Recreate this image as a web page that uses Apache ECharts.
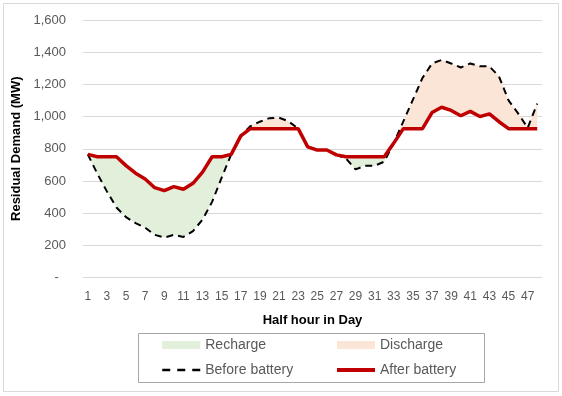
<!DOCTYPE html>
<html>
<head>
<meta charset="utf-8">
<script src="https://cdn.jsdelivr.net/npm/echarts@6/dist/echarts.min.js"></script>
<style>
html,body{margin:0;padding:0;background:#fff;}
#chart{width:562px;height:396px;}
</style>
</head>
<body>
<div id="chart"></div>
<script>
// Half-hour categories
var categories = ['1','2','3','4','5','6','7','8','9','10','11','12','13','14','15','16','17','18','19','20','21','22','23','24',
  '25','26','27','28','29','30','31','32','33','34','35','36','37','38','39','40','41','42','43','44','45','46','47','48'];

// Residual demand before battery (MW)
var beforeBattery = [765, 645, 535, 435, 375, 338, 310, 265, 248, 265, 252, 288, 360, 470, 620, 765,
  880, 940, 968, 990, 993, 970, 925, 812, 792, 792, 762, 740, 672, 694, 694, 720,
  835, 970, 1105, 1240, 1330, 1352, 1330, 1305, 1330, 1312, 1312, 1250, 1100, 1020, 930, 1080];

// Residual demand after battery (MW)
var afterBattery = [765, 750, 750, 750, 695, 648, 612, 558, 540, 565, 548, 585, 655, 750, 750, 765,
  880, 925, 925, 925, 925, 925, 925, 812, 792, 792, 762, 750, 750, 750, 750, 750,
  835, 925, 925, 925, 1025, 1058, 1038, 1005, 1032, 1000, 1017, 968, 925, 925, 925, 925];

// Y axis ticks
var yMin = 0, yMax = 1600, yStep = 200;

// Derived series for the shaded bands
var bandBase = beforeBattery.map(function (b, i) { return Math.min(b, afterBattery[i]); });
var recharge = beforeBattery.map(function (b, i) { return Math.max(afterBattery[i] - b, 0); });
var discharge = beforeBattery.map(function (b, i) { return Math.max(b - afterBattery[i], 0); });

var FONT = 'Liberation Sans';
var chart = echarts.init(document.getElementById('chart'), null, {renderer: 'canvas'});
chart.setOption({
  animation: false,
  backgroundColor: '#ffffff',
  textStyle: {fontFamily: FONT},
  graphic: [
    {type: 'rect', shape: {x: 3.5, y: 3.5, width: 555, height: 388}, style: {fill: 'none', stroke: '#D9D9D9', lineWidth: 1}, z: -1},
    {type: 'rect', shape: {x: 138.5, y: 333.5, width: 346, height: 49}, style: {fill: 'none', stroke: '#A6A6A6', lineWidth: 1}, z: -1}
  ],
  grid: {left: 83, right: 20, top: 20, bottom: 118.5, containLabel: false},
  legend: [
    {
      orient: 'vertical', left: 161, top: 337, padding: 0, itemGap: 9,
      itemWidth: 38, itemHeight: 8,
      textStyle: {fontFamily: FONT, fontSize: 14, color: '#595959', lineHeight: 16},
      data: [{name: 'Recharge', icon: 'rect'},
             {name: 'Before battery', itemStyle: {opacity: 0}, lineStyle: {type: [8, 7], width: 2.5}}]
    },
    {
      orient: 'vertical', left: 335, top: 337, padding: 0, itemGap: 9,
      itemWidth: 38, itemHeight: 8,
      textStyle: {fontFamily: FONT, fontSize: 14, color: '#595959', lineHeight: 16},
      data: [{name: 'Discharge', icon: 'rect'},
             {name: 'After battery', itemStyle: {opacity: 0}, lineStyle: {width: 4}}]
    }
  ],
  xAxis: {
    type: 'category',
    data: categories,
    boundaryGap: true,
    name: 'Half hour in Day',
    nameLocation: 'middle',
    nameGap: 36,
    nameTextStyle: {fontFamily: FONT, fontSize: 13, fontWeight: 'bold', color: '#000000'},
    axisLine: {show: false},
    axisTick: {show: false},
    axisLabel: {interval: 1, margin: 13, fontSize: 12, color: '#595959', fontFamily: FONT},
    splitLine: {show: false}
  },
  yAxis: {
    type: 'value',
    min: yMin, max: yMax, interval: yStep,
    name: 'Residual Demand (MW)',
    nameLocation: 'middle',
    nameGap: 59,
    nameTextStyle: {fontFamily: FONT, fontSize: 13, fontWeight: 'bold', color: '#000000'},
    axisLine: {show: false},
    axisTick: {show: false},
    axisLabel: {
      margin: 17, fontSize: 13, color: '#595959', fontFamily: FONT,
      formatter: function (v) { return v === 0 ? '-  ' : v.toLocaleString('en-US'); }
    },
    splitLine: {lineStyle: {color: '#D9D9D9', width: 1}}
  },
  series: [
    {
      name: 'base', type: 'line', stack: 'band', data: bandBase, symbol: 'none', silent: true,
      lineStyle: {width: 0, opacity: 0}, itemStyle: {color: 'rgba(0,0,0,0)'}, z: 1
    },
    {
      name: 'Recharge', type: 'line', stack: 'band', data: recharge, symbol: 'none', silent: true,
      color: '#E2EFDA', itemStyle: {color: '#E2EFDA'},
      lineStyle: {width: 0, opacity: 0}, areaStyle: {color: '#E2EFDA', opacity: 1}, z: 1
    },
    {
      name: 'Discharge', type: 'line', stack: 'band', data: discharge, symbol: 'none', silent: true,
      color: '#FBE5D6', itemStyle: {color: '#FBE5D6'},
      lineStyle: {width: 0, opacity: 0}, areaStyle: {color: '#FBE5D6', opacity: 1}, z: 1
    },
    {
      name: 'Before battery', type: 'line', data: beforeBattery, symbol: 'none',
      color: '#000000', itemStyle: {color: '#000000'},
      lineStyle: {color: '#000000', width: 2, type: [7, 5]}, z: 3
    },
    {
      name: 'After battery', type: 'line', data: afterBattery, symbol: 'none',
      color: '#C00000', itemStyle: {color: '#C00000'},
      lineStyle: {color: '#C00000', width: 3.5}, z: 4
    }
  ]
});
</script>
</body>
</html>
